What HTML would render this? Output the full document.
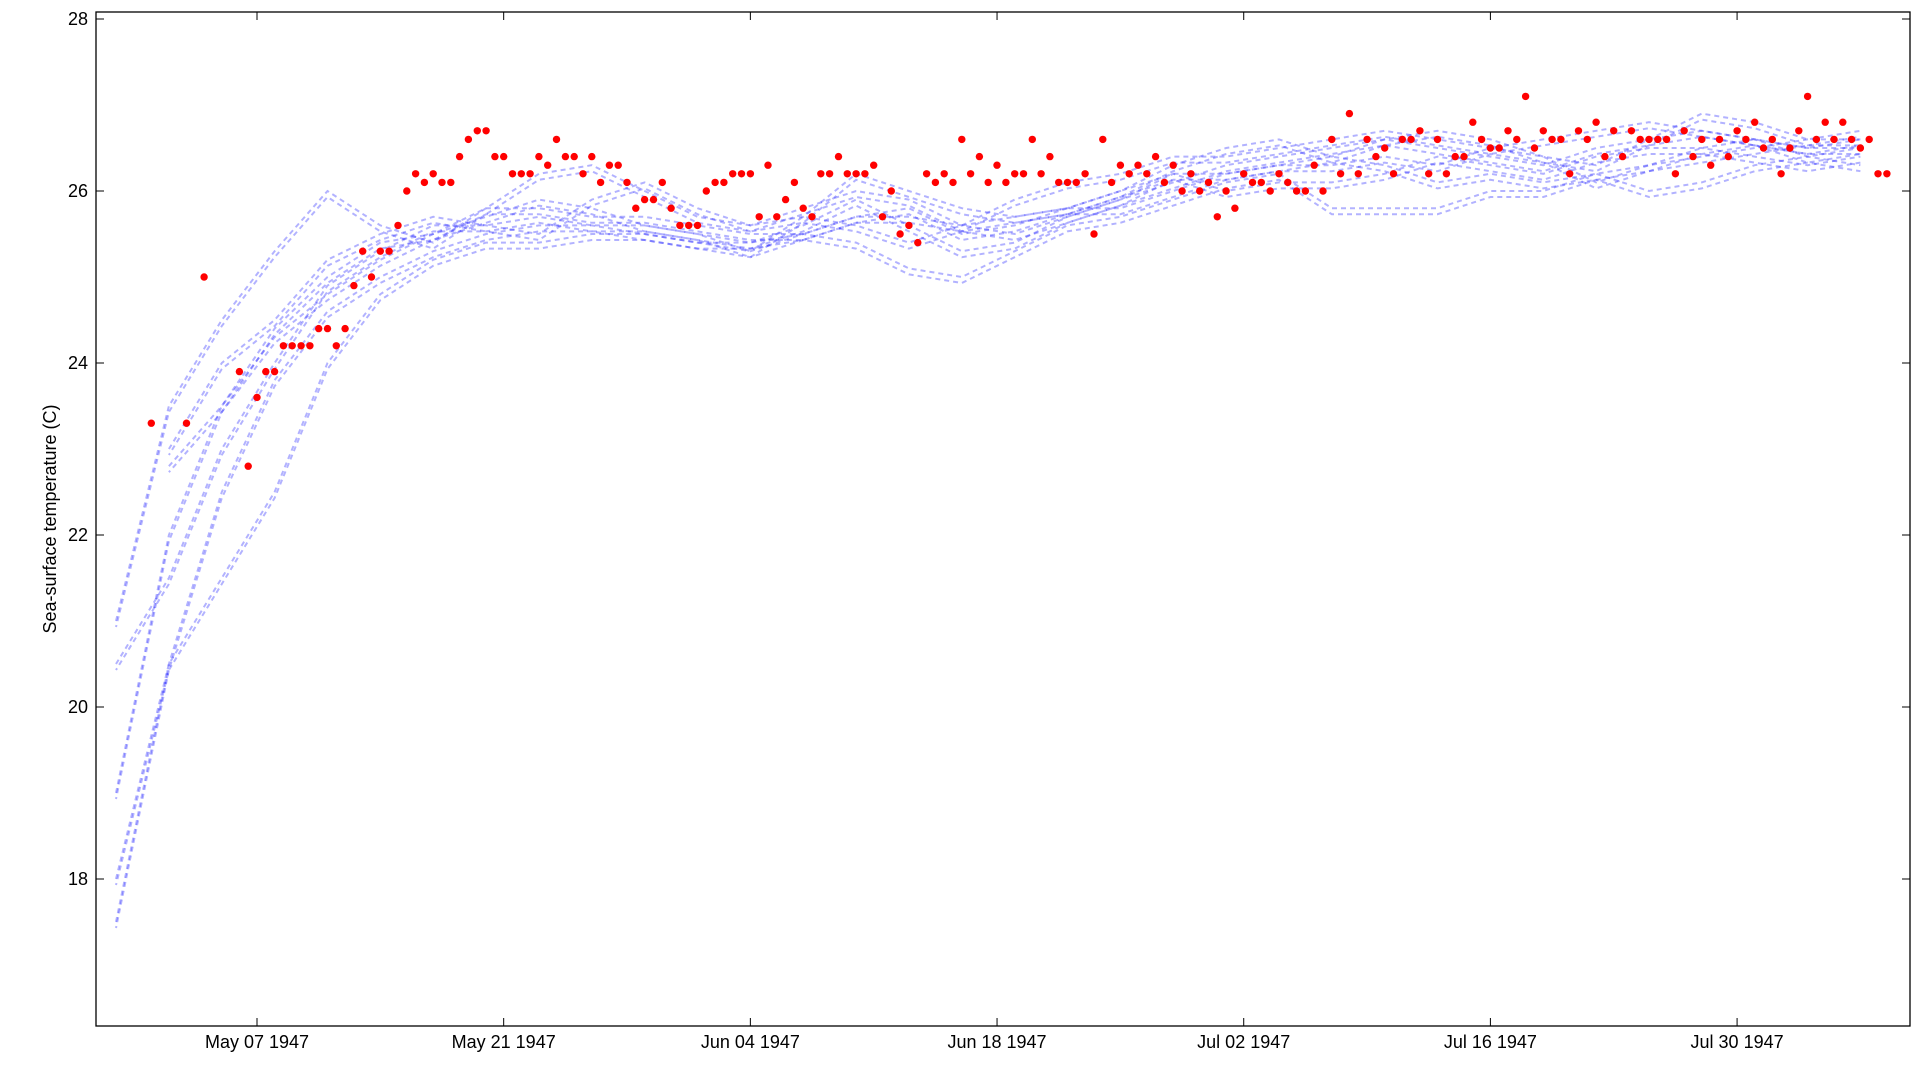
<!DOCTYPE html>
<html><head><meta charset="utf-8"><style>
html,body{margin:0;padding:0;background:#fff;}
svg text{font-family:"Liberation Sans",sans-serif;fill:#000;}
</style></head><body>
<svg id="chart" width="1920" height="1080" xmlns="http://www.w3.org/2000/svg">
<rect width="1920" height="1080" fill="#fff"/>
<g id="blue"></g>
<g id="red"></g>
<g id="axes"></g>
<rect x="96" y="12" width="1814" height="1014" fill="none" stroke="#000" stroke-width="1.3"/>
<text transform="translate(56,519) rotate(-90)" text-anchor="middle" font-size="18">Sea-surface temperature (C)</text>
</svg>
<script>
const yTicks=[18,20,22,24,26,28];
const xTickDays=[0,14,28,42,56,70,84];
const xTickLabels=["May 07 1947","May 21 1947","Jun 04 1947","Jun 18 1947","Jul 02 1947","Jul 16 1947","Jul 30 1947"];
const trackDays=[-8,-5,-2,1,4,7,10,13,16,19,22,25,28,31,34,37,40,43,46,49,52,55,58,61,64,67,70,73,76,79,82,85,88,91];
const track1=[21.0,23.5,24.5,25.3,26.0,25.6,25.4,25.8,26.2,26.3,26.0,25.7,25.6,25.7,26.2,26.0,25.8,25.7,25.8,26.0,26.3,26.5,26.6,26.4,26.6,26.7,26.6,26.4,26.3,26.6,26.9,26.8,26.6,26.7];
const track2=[19.0,22.0,23.5,24.3,24.8,25.2,25.5,25.7,25.9,25.8,25.6,25.5,25.4,25.6,25.9,25.6,25.3,25.4,25.7,25.9,26.1,26.3,26.4,26.5,26.6,26.5,26.4,26.3,26.5,26.6,26.7,26.6,26.5,26.5];
const track3=[17.5,20.5,22.5,23.8,24.6,25.0,25.3,25.5,25.6,25.6,25.5,25.4,25.3,25.5,25.4,25.1,25.0,25.3,25.6,25.7,25.9,26.1,26.2,25.8,25.8,25.8,26.0,26.0,26.2,26.0,26.1,26.3,26.4,26.3];
const track4=[20.5,21.5,23.0,24.0,24.9,25.3,25.6,25.6,25.7,25.6,25.6,25.5,25.3,25.7,25.6,25.4,25.6,25.7,25.8,25.8,26.0,26.2,26.3,26.3,26.4,26.3,26.5,26.4,26.1,26.3,26.4,26.5,26.6,26.6];
const track5=[null,22.8,23.5,24.4,25.0,25.4,25.5,25.8,25.8,25.7,25.7,25.6,25.5,25.5,25.7,25.7,25.6,25.5,25.7,25.9,26.2,26.0,26.1,26.1,26.2,26.4,26.3,26.2,26.4,26.5,26.5,26.4,26.3,26.4];
const track6=[18.0,20.5,21.5,22.5,24.0,24.8,25.2,25.4,25.4,25.5,25.5,25.4,25.4,25.5,25.7,25.8,25.5,25.6,25.8,26.0,26.2,26.2,26.3,26.4,26.3,26.1,26.2,26.1,26.2,26.3,26.5,26.6,26.5,26.6];
const track7=[null,23.0,24.0,24.5,25.2,25.5,25.7,25.6,25.5,25.9,26.1,25.8,25.6,25.8,26.0,25.9,25.6,25.9,26.1,26.2,26.4,26.4,26.5,26.6,26.7,26.6,26.5,26.6,26.7,26.8,26.7,26.6,26.4,26.5];
const obsStartDay=-6;
const obsStep=0.5;
const obsValues=[23.3,null,null,null,23.3,null,25.0,null,null,null,23.9,22.8,23.6,23.9,23.9,24.2,24.2,24.2,24.2,24.4,24.4,24.2,24.4,24.9,25.3,25.0,25.3,25.3,25.6,26.0,26.2,26.1,26.2,26.1,26.1,26.4,26.6,26.7,26.7,26.4,26.4,26.2,26.2,26.2,26.4,26.3,26.6,26.4,26.4,26.2,26.4,26.1,26.3,26.3,26.1,25.8,25.9,25.9,26.1,25.8,25.6,25.6,25.6,26.0,26.1,26.1,26.2,26.2,26.2,25.7,26.3,25.7,25.9,26.1,25.8,25.7,26.2,26.2,26.4,26.2,26.2,26.2,26.3,25.7,26.0,25.5,25.6,25.4,26.2,26.1,26.2,26.1,26.6,26.2,26.4,26.1,26.3,26.1,26.2,26.2,26.6,26.2,26.4,26.1,26.1,26.1,26.2,25.5,26.6,26.1,26.3,26.2,26.3,26.2,26.4,26.1,26.3,26.0,26.2,26.0,26.1,25.7,26.0,25.8,26.2,26.1,26.1,26.0,26.2,26.1,26.0,26.0,26.3,26.0,26.6,26.2,26.9,26.2,26.6,26.4,26.5,26.2,26.6,26.6,26.7,26.2,26.6,26.2,26.4,26.4,26.8,26.6,26.5,26.5,26.7,26.6,27.1,26.5,26.7,26.6,26.6,26.2,26.7,26.6,26.8,26.4,26.7,26.4,26.7,26.6,26.6,26.6,26.6,26.2,26.7,26.4,26.6,26.3,26.6,26.4,26.7,26.6,26.8,26.5,26.6,26.2,26.5,26.7,27.1,26.6,26.8,26.6,26.8,26.6,26.5,26.6,26.2,26.2];

const NS="http://www.w3.org/2000/svg";
function X(d){return 257+d*17.62;}
function Y(v){return 19+(28-v)*86;}
function mk(tag,parent){const e=document.createElementNS(NS,tag);parent.appendChild(e);return e;}

const blue=document.getElementById('blue');
const tracks=[track1,track2,track3,track4,track5,track6,track7];
tracks.forEach((t,i)=>{
  let pts=[];
  t.forEach((v,j)=>{if(v!==null)pts.push(X(trackDays[j]).toFixed(1)+','+Y(v).toFixed(1));});
  [[0,0,'0'],[0,6,'3']].forEach(([dx,dy,off])=>{
    const p=mk('polyline',blue);
    
    
    p.setAttribute('points',pts.join(' '));
    p.setAttribute('transform','translate('+dx+','+dy+')');
    p.setAttribute('fill','none');
    p.setAttribute('stroke','#0000ff');
    p.setAttribute('stroke-opacity','0.3');
    p.setAttribute('stroke-width','2');
    p.setAttribute('stroke-dasharray','5 4');
    p.setAttribute('stroke-dashoffset',off);
  });
});

const red=document.getElementById('red');
obsValues.forEach((v,k)=>{
  if(v===null)return;
  const c=mk('circle',red);
  
  
  c.setAttribute('cx',X(obsStartDay+k*obsStep).toFixed(1));
  c.setAttribute('cy',Y(v).toFixed(1));
  c.setAttribute('r','3.7');
  c.setAttribute('fill','#ff0000');
});

const axes=document.getElementById('axes');
yTicks.forEach(v=>{
  const y=Y(v);
  [[96,104],[1910,1902]].forEach(([a,b])=>{
    const l=mk('line',axes);
    
    
    l.setAttribute('x1',a);l.setAttribute('x2',b);l.setAttribute('y1',y);l.setAttribute('y2',y);
    l.setAttribute('stroke','#000');
  });
  const t=mk('text',axes);
  
  
  t.setAttribute('x',88);t.setAttribute('y',y+6);
  t.setAttribute('text-anchor','end');t.setAttribute('font-size','18');
  t.textContent=v;
});
xTickDays.forEach((d,i)=>{
  const x=X(d);
  [[1026,1018],[12,20]].forEach(([a,b])=>{
    const l=mk('line',axes);
    
    
    l.setAttribute('x1',x);l.setAttribute('x2',x);l.setAttribute('y1',a);l.setAttribute('y2',b);
    l.setAttribute('stroke','#000');
  });
  const t=mk('text',axes);
  
  
  t.setAttribute('x',x);t.setAttribute('y',1048);
  t.setAttribute('text-anchor','middle');t.setAttribute('font-size','18');
  t.textContent=xTickLabels[i];
});
</script>
</body></html>
